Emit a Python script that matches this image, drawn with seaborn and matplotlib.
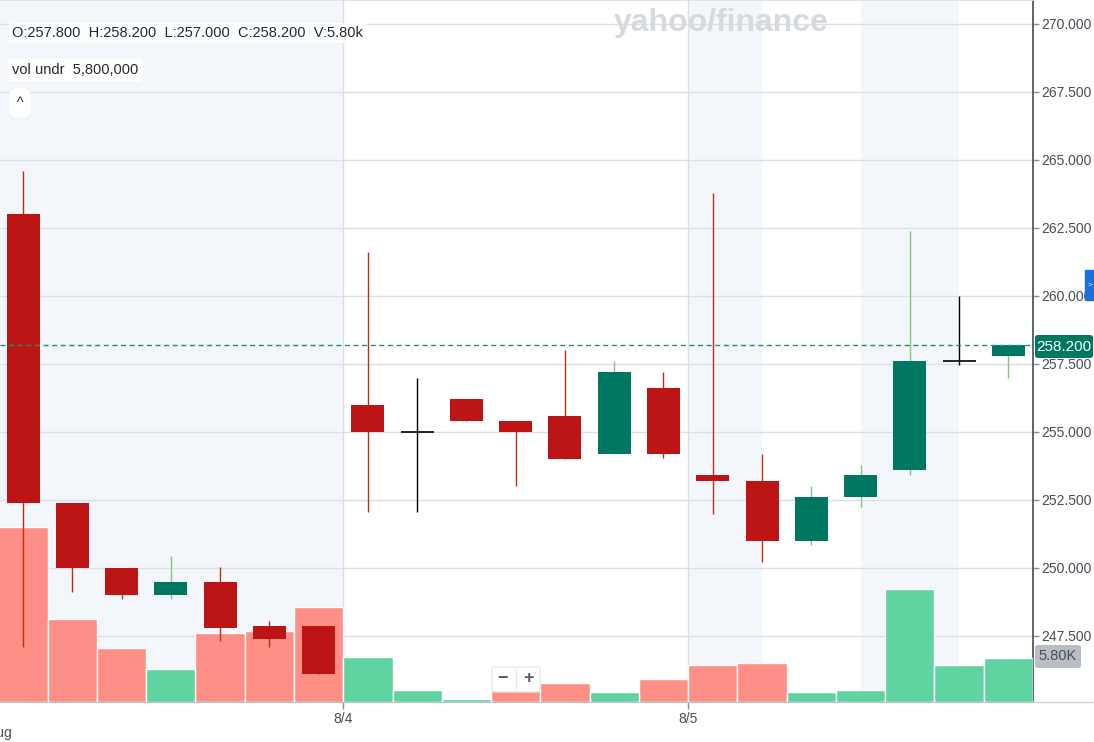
import numpy as np
import pandas as pd
import matplotlib
matplotlib.use("Agg")
import matplotlib.pyplot as plt
import seaborn as sns
from matplotlib.patches import Rectangle, FancyBboxPatch

# OHLC values (21 candles)
opens = [263.0, 252.4, 250.0, 249.0, 249.5, 247.85, 247.85, 256.0, 255.0, 256.2, 255.4,
         255.6, 254.2, 256.6, 253.4, 253.2, 251.0, 252.6, 253.6, 257.6, 257.8]
highs = [264.6, 252.4, 250.0, 250.45, 250.05, 248.05, 247.85, 261.6, 257.0, 256.2, 255.4,
         258.0, 257.6, 257.2, 263.8, 254.2, 253.0, 253.8, 262.4, 260.0, 258.2]
lows = [247.1, 249.1, 248.85, 248.85, 247.3, 247.1, 246.1, 252.05, 252.05, 255.4, 253.0,
        254.0, 254.2, 254.05, 252.0, 250.2, 250.85, 252.25, 253.4, 257.45, 257.0]
closes = [252.4, 250.0, 249.0, 249.5, 247.8, 247.4, 246.1, 255.0, 255.0, 255.4, 255.0,
          254.0, 257.2, 254.2, 253.2, 251.0, 252.6, 253.4, 257.6, 257.6, 258.2]
volumes = [22900, 10900, 7070, 4320, 8970, 9240, 12400, 5930, 1570, 430, 1660,
           2530, 1270, 3050, 4870, 5150, 1350, 1610, 14800, 4850, 5800]

day_ticks = [6.5, 13.5]
day_labels = ["8/4", "8/5"]
shaded = [(-0.6, 6.5), (13.5, 15.0), (17.0, 19.0)]
last_price = 258.2

RED_BODY = "#bd1516"
RED_WICK = "#c42b10"
GREEN_BODY = "#007760"
GREEN_WICK = "#84c77c"
VOL_RED = "#fd8f87"
VOL_GREEN = "#5fd3a0"
TXT = "#464e56"

sns.set_theme(style="white")
plt.rcParams['font.family'] = ['Liberation Sans', 'DejaVu Sans']

n = len(opens)
idx = np.arange(n)
prev = np.r_[np.inf, closes[:-1]]
vdir = np.where(np.array(closes) >= prev, "up", "down")
vdf = pd.DataFrame({"idx": idx, "volume": volumes, "dir": vdir})

W, H = 1094, 742
fig = plt.figure(figsize=(W / 100, H / 100), dpi=100)
ax = fig.add_axes([0, 40 / H, 1033 / W, 702 / H])
axv = ax.twinx()
axc = ax.twinx()
ax.set_zorder(1)
axv.set_zorder(2)
axc.set_zorder(3)
ax.set_facecolor("white")

xlim = (-0.467, 20.5)
ylim = (245.07, 270.88)

# background: sessions + grid
for a, b in shaded:
    ax.axvspan(a, b, color="#f3f6fa", lw=0, zorder=0)
yt = np.arange(247.5, 270.01, 2.5)
for y in yt:
    ax.axhline(y, color="#dcdfe3", lw=1, zorder=1)
for x in day_ticks:
    ax.axvline(x, color="#dcdfe3", lw=1, zorder=1)

# volume
sns.barplot(data=vdf, x="idx", y="volume", hue="dir", dodge=False, width=1.0,
            palette={"up": VOL_GREEN, "down": VOL_RED}, saturation=1,
            edgecolor="white", linewidth=1, errorbar=None, legend=False, ax=axv)
axv.set_ylim(0, 91900)
axv.set_yticks([])
axv.set_ylabel("")
axv.set_xlabel("")

# candles
for i in idx:
    o, h, l, c = opens[i], highs[i], lows[i], closes[i]
    if c < o:
        bc, wc = RED_BODY, RED_WICK
    elif c > o:
        bc, wc = GREEN_BODY, GREEN_WICK
    else:
        bc, wc = "black", "black"
    axc.vlines(i, l, h, color=wc, lw=1, zorder=1)
    if c == o:
        axc.hlines(o, i - 0.335, i + 0.335, color="black", lw=1.2, zorder=2)
    else:
        axc.bar(i, abs(c - o), bottom=min(o, c), width=0.67, color=bc, lw=0, zorder=2)
axc.axhline(last_price, color="#1f8f7a", lw=1, ls=(0, (3.6, 2.6)), zorder=3)
axc.set_ylim(*ylim)
axc.set_yticks([])

for a in (ax, axv, axc):
    a.set_xlim(*xlim)
    for s in a.spines.values():
        s.set_visible(False)

ax.set_ylim(*ylim)
ax.yaxis.tick_right()
ax.set_yticks(yt)
ax.set_yticklabels([f"{v:.3f}" for v in yt])
ax.set_xticks(day_ticks)
ax.set_xticklabels(day_labels)
ax.tick_params(axis="y", right=True, length=4, width=1, color="#8a9096", pad=2,
               labelsize=10, labelcolor=TXT)
ax.tick_params(axis="x", bottom=True, length=5, width=1, color="#8a9096", pad=2,
               labelsize=10, labelcolor=TXT)
ax.spines["right"].set_visible(True)
ax.spines["right"].set_color("#4d5358")
ax.spines["bottom"].set_visible(True)
ax.spines["bottom"].set_color("#b5bac0")
ax.spines["top"].set_visible(True)
ax.spines["top"].set_color("#dcdfe3")


def fx(x):
    return x / W


def fy(y):
    return 1 - y / H


fig.add_artist(plt.Line2D([fx(1033), 1], [fy(702), fy(702)], color="#cfd3d7", lw=1))

# overlays
fig.text(fx(721), fy(23), "yahoo/finance", ha="center", va="center", fontsize=23,
         fontweight="heavy", color="#d6d9dd", zorder=5)
fig.text(fx(12), fy(33), "O:257.800  H:258.200  L:257.000  C:258.200  V:5.80k",
         ha="left", va="center", fontsize=10.5, color="#232a31", zorder=10,
         bbox=dict(boxstyle="square,pad=0.2", fc="white", ec="none", alpha=0.9))
fig.text(fx(12), fy(70), "vol undr  5,800,000", ha="left", va="center", fontsize=10.5,
         color="#232a31", zorder=10,
         bbox=dict(boxstyle="round,pad=0.3,rounding_size=0.3", fc="white", ec="none"))
fig.text(fx(20), fy(103), "^", ha="center", va="center", fontsize=10, color="#232a31",
         zorder=10, bbox=dict(boxstyle="round,pad=0.55", fc="white", ec="none"))

# zoom buttons
fig.add_artist(FancyBboxPatch((fx(492), fy(692)), fx(48), 25 / H,
                              boxstyle="round,pad=0,rounding_size=0.003",
                              fc="white", ec="#e6e8eb", lw=1, zorder=10))
fig.add_artist(plt.Line2D([fx(516), fx(516)], [fy(690), fy(669)], color="#e6e8eb",
                          lw=1, zorder=11))
fig.text(fx(503), fy(679), "\u2212", ha="center", va="center", fontsize=13,
         fontweight="bold", color="#555b61", zorder=12)
fig.text(fx(529), fy(679), "+", ha="center", va="center", fontsize=13,
         fontweight="bold", color="#555b61", zorder=12)

# right side labels
fig.add_artist(FancyBboxPatch((fx(1035), fy(358)), fx(58), 23 / H,
                              boxstyle="round,pad=0,rounding_size=0.003",
                              fc=GREEN_BODY, ec="none", zorder=10))
fig.text(fx(1064), fy(346.5), "258.200", ha="center", va="center", fontsize=11,
         color="white", zorder=11)
fig.add_artist(FancyBboxPatch((fx(1035), fy(668)), fx(46), 23 / H,
                              boxstyle="round,pad=0,rounding_size=0.003",
                              fc="#b9bdc4", ec="none", zorder=10))
fig.text(fx(1058), fy(656.5), "5.80K", ha="center", va="center", fontsize=10.5,
         color=TXT, zorder=11)
fig.add_artist(Rectangle((fx(1085), fy(300)), fx(9), 30 / H, color="#1d6fdc", zorder=11))
fig.text(fx(1090), fy(285), ">", ha="center", va="center", fontsize=6, color="white",
         zorder=12)
fig.text(fx(13), fy(733), "Aug", ha="right", va="center", fontsize=10, color=TXT)

fig.savefig("out.png", dpi=100)
